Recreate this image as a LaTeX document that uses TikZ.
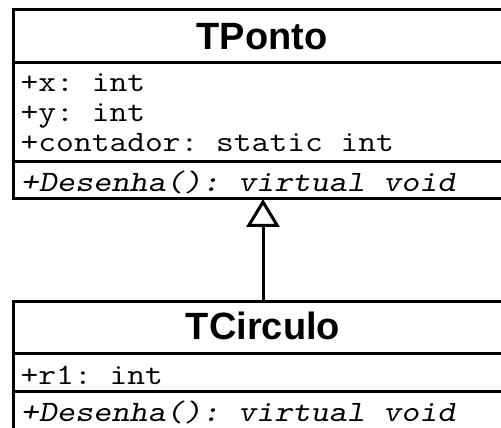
\documentclass[tikz,border=0pt]{standalone}
\usepackage{fontspec}
\newfontfamily\hdrfont{Liberation Sans}
\usetikzlibrary{arrows.meta}
\newcommand{\monotext}[1]{\scalebox{1.19}[1.02]{\frenchspacing #1}}
\begin{document}
\begin{tikzpicture}[x=1pt,y=1pt,
  compartment/.style={draw, line width=3pt, rectangle, inner sep=0pt, outer sep=0pt,
    anchor=north west, minimum width=497pt},
  classname/.style={anchor=base, inner sep=0pt, font=\hdrfont\bfseries\fontsize{38}{38}\selectfont},
  member/.style={anchor=base west, inner sep=0pt, font=\ttfamily\fontsize{29}{29}\selectfont},
  operation/.style={member, font=\ttfamily\slshape\fontsize{29}{29}\selectfont},
  inherit/.style={line width=3pt, -{Triangle[open, length=28pt, width=33pt]}}]
\useasboundingbox (0,0) rectangle (501,428);
\clip (0,0) rectangle (501,428);
% TPonto
\node[compartment, minimum height=53pt] (tpHead) at (13.5,418.5) {};
\node[compartment, minimum height=99.5pt] (tpAttr) at (13.5,365.5) {};
\node[compartment, minimum height=37pt] (tpOps) at (13.5,266) {};
\node[classname] (tpName) at (262,378.7) {TPonto};
\node[member] (tpA1) at (20.5,336) {\monotext{+x: int}};
\node[member] (tpA2) at (20.5,306) {\monotext{+y: int}};
\node[member] (tpA3) at (20.5,276) {\monotext{+contador: static int}};
\node[operation] (tpO1) at (20.5,236) {\monotext{+Desenha(): virtual void}};
% TCirculo
\node[compartment, minimum height=52.5pt] (tcHead) at (13.5,126.5) {};
\node[compartment, minimum height=37.5pt] (tcAttr) at (13.5,74) {};
\node[compartment, minimum height=60pt] (tcOps) at (13.5,36.5) {};
\node[classname] (tcName) at (263,88.7) {TCirculo};
\node[member] (tcA1) at (20.5,43) {\monotext{+r1: int}};
\node[operation] (tcO1) at (20.5,6) {\monotext{+Desenha(): virtual void}};
% generalization
\coordinate (gsrc) at (263,126.5);
\coordinate (gdst) at (263,229);
\draw[inherit] (gsrc) -- (gdst);
\end{tikzpicture}
\end{document}
